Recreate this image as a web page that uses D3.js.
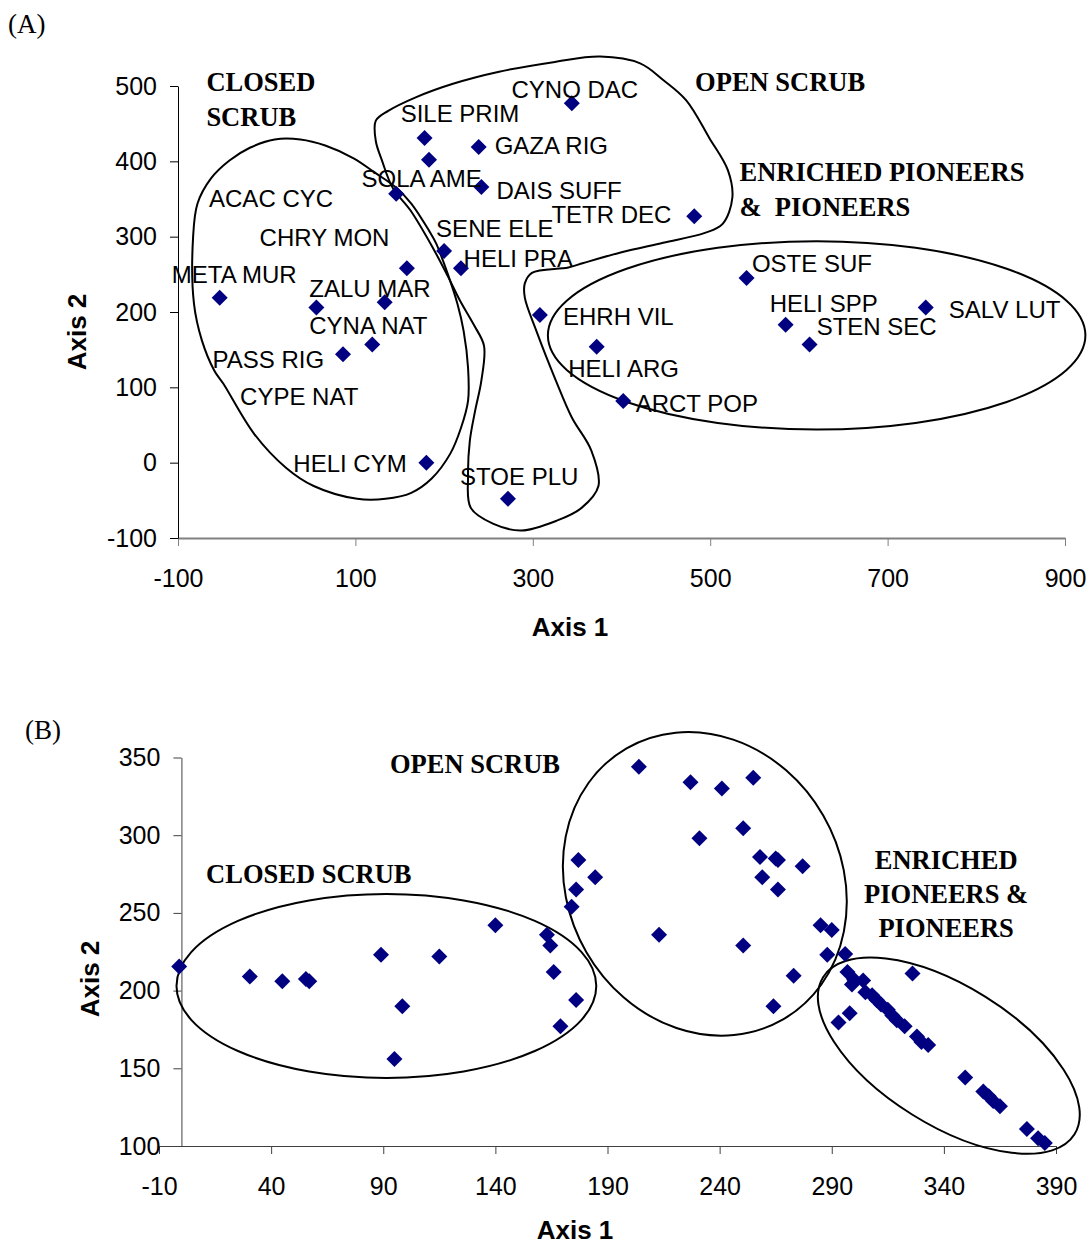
<!DOCTYPE html>
<html>
<head>
<meta charset="utf-8">
<script src="https://cdn.jsdelivr.net/npm/d3@7"></script>
<style>
  body { margin: 0; background: #fff; }
  svg text { font-family: "Liberation Sans", Arial, sans-serif; fill: #000; }
  .axis text { font-size: 25px; font-family: "Liberation Sans", Arial, sans-serif; }
  .site-label { font-size: 24px; }
  .group-label { font-family: "Liberation Serif", "Times New Roman", serif; font-weight: bold; font-size: 26.5px; }
  .axis-title { font-size: 26px; font-weight: bold; }
  .panel-tag { font-family: "Liberation Serif", "Times New Roman", serif; font-size: 27px; }
  .hull { fill: none; stroke: #000; stroke-width: 2; }
  .site { fill: #000080; }
</style>
</head>
<body>
<div class="chart"></div>
<script>
// ---------- panel A: species scores ----------
let axis1A = [-53, 56, 133, 158, 146, 178, 183, 239, 242, 200, 219, 344, 482, 541, 585, 612, 743, 308, 372, 402, 119, 86, 180, 272];
let axis2A = [219, 206, 213, 258, 357, 431, 402, 419, 366, 281, 258, 477, 327, 245, 183, 157, 206, 196, 154, 82, 157, 144, 0, -48];

// species labels, anchored in axis units (left edge, baseline)
let speciesNames = ["SILE PRIM", "SOLA AME", "ACAC CYC", "CHRY MON", "META MUR", "ZALU MAR", "GAZA RIG", "CYNO DAC",
    "DAIS SUFF", "TETR DEC", "SENE ELE", "HELI PRA", "OSTE SUF", "HELI SPP", "SALV LUT", "STEN SEC", "EHRH VIL",
    "HELI ARG", "ARCT POP", "CYNA NAT", "PASS RIG", "CYPE NAT", "HELI CYM", "STOE PLU"];
let labelAxis1 = [151, 107, -65, -8, -107, 48, 257, 276, 259, 321, 191, 222, 547, 567, 769, 620, 334, 340, 416, 48, -61, -30, 30, 218];
let labelAxis2 = [452, 366, 340, 288, 239, 220, 410, 484, 350, 318, 299, 260, 253, 200, 192, 169, 183, 114, 67, 171, 126, 77, -12, -29];

let xTicksA = [-100, 100, 300, 500, 700, 900];
let yTicksA = [-100, 0, 100, 200, 300, 400, 500];

let groupsA = [
    {lines: ["CLOSED", "SCRUB"], x: -68, y: 494, anchor: "start"},
    {lines: ["OPEN SCRUB"], x: 483, y: 494, anchor: "start"},
    {lines: ["ENRICHED PIONEERS", "&  PIONEERS"], x: 533, y: 374, anchor: "start"}
];

// hand drawn group outlines (axis units)
let hullClosedA = [[9, 429], [38, 429], [66, 421], [98, 404], [122, 385], [146, 365], [163, 344], [183, 308], [191, 291],
    [204, 251], [215, 211], [222, 175], [227, 126], [227, 82], [219, 46], [207, 12], [186, -21], [163, -40], [134, -48],
    [102, -48], [53, -31], [22, -7], [-14, 38], [-49, 105], [-59, 122], [-73, 162], [-82, 211], [-83, 299], [-78, 344],
    [-63, 377], [-42, 401], [-19, 418]];
let hullOpenA = [[123, 454], [137, 467], [168, 485], [210, 503], [262, 519], [325, 532], [376, 539], [421, 530], [447, 508],
    [473, 481], [499, 431], [520, 388], [525, 352], [514, 317], [494, 305], [447, 292], [399, 279], [357, 265], [340, 259],
    [299, 252], [291, 238], [291, 219], [304, 175], [326, 109], [344, 60], [366, 16], [374, -31], [355, -60], [327, -77],
    [287, -90], [255, -81], [230, -60], [227, -17], [229, 29], [235, 69], [242, 109], [245, 155], [234, 182], [218, 215],
    [204, 248], [186, 288], [162, 335], [142, 365], [130, 401], [123, 427]];
let ellipsesA = [{cx: 620, cy: 169, rx: 303, ry: 125, angle: 0}];

// ---------- panel B: site scores ----------
let axis1B = [-1, 30.5, 45, 55.5, 57, 89, 98.5, 95, 115, 140, 163, 164.5, 166, 176, 169,
    174, 176, 177, 184.5, 204, 227, 241, 255, 250.5, 231, 258, 265, 266, 277, 259, 266, 213, 250.5, 285, 290, 288, 296, 273, 264, 293, 298,
    326, 297, 300, 299, 304, 305, 308, 310, 312, 315, 317, 319, 322.5, 328, 330, 333, 349.5, 357.6, 360, 362, 365, 377, 382, 385];
let axis2B = [215.5, 209, 206, 207.5, 206, 223, 190, 156, 222, 242, 236, 229, 212, 194, 177,
    254, 265, 284, 273, 344, 334, 330, 337, 304.5, 298, 286, 285, 284, 280, 273, 265, 236, 229, 242, 239, 223, 223.5, 209.5, 190, 179.5, 185.5,
    211, 212, 207, 204, 206.5, 199, 197, 194, 191, 187.6, 184, 181, 177, 170.5, 167, 165, 144, 135, 132, 129, 125.5, 111, 105, 102];

let xTicksB = [-10, 40, 90, 140, 190, 240, 290, 340, 390];
let yTicksB = [100, 150, 200, 250, 300, 350];

let groupsB = [
    {lines: ["OPEN SCRUB"], x: 93, y: 340, anchor: "start"},
    {lines: ["CLOSED SCRUB"], x: 11, y: 269, anchor: "start"},
    {lines: ["ENRICHED", "PIONEERS &", "PIONEERS"], x: 341, y: 278, anchor: "middle"}
];
let ellipsesB = [
    {cx: 91.4, cy: 203, rx: 93.6, ry: 59.2, angle: 0},
    {cx: 233.4, cy: 268.7, rx: 69.8, ry: 88, angle: 60},
    {cx: 342.2, cy: 158.1, rx: 66.1, ry: 44.6, angle: 32}
];


let svg = d3.select(".chart").append("svg")
    .attr("width", 1090)
    .attr("height", 1246);

let diamond = d3.symbol(d3.symbolSquare, 128);

// plain hyphen for negatives, like the original
let plainNum = d => String(d);

function drawPanel(p) {
    let g = svg.append("g");

    // x axis
    g.append("g")
        .attr("class", "axis x-axis")
        .attr("transform", `translate(0,${p.y(p.yDomain[0])})`)
        .call(d3.axisBottom(p.x).tickValues(p.xTicks).tickFormat(plainNum)
            .tickSize(8).tickSizeOuter(0).tickPadding(23));

    // y axis
    g.append("g")
        .attr("class", "axis y-axis")
        .attr("transform", `translate(${p.x(p.yAxisAt)},0)`)
        .call(d3.axisLeft(p.y).tickValues(p.yTicks).tickFormat(plainNum)
            .tickSize(8).tickSizeOuter(0).tickPadding(13));

    g.selectAll(".x-axis .domain").attr("stroke", p.xAxisColor).attr("stroke-width", p.xAxisWidth);
    g.selectAll(".x-axis .tick line").attr("stroke", p.xAxisColor);
    g.selectAll(".y-axis .domain, .y-axis .tick line").attr("stroke", p.yAxisColor);

    // outlines
    let line = d3.line()
        .x(d => p.x(d[0]))
        .y(d => p.y(d[1]))
        .curve(d3.curveCatmullRomClosed.alpha(0.5));

    g.selectAll(".hull-path")
        .data(p.hulls)
        .enter()
        .append("path")
        .attr("class", "hull")
        .attr("d", d => line(d));

    g.selectAll(".hull-ellipse")
        .data(p.ellipses)
        .enter()
        .append("ellipse")
        .attr("class", "hull")
        .attr("cx", d => p.x(d.cx))
        .attr("cy", d => p.y(d.cy))
        .attr("rx", d => p.x(d.cx + d.rx) - p.x(d.cx))
        .attr("ry", d => p.y(d.cy - d.ry) - p.y(d.cy))
        .attr("transform", d => `rotate(${d.angle},${p.x(d.cx)},${p.y(d.cy)})`);

    // points
    g.selectAll(".site")
        .data(p.xs.map((v, i) => [v, p.ys[i]]))
        .enter()
        .append("path")
        .attr("class", "site")
        .attr("d", diamond)
        .attr("transform", d => `translate(${p.x(d[0])},${p.y(d[1])}) rotate(45)`);

    // group names
    let grp = g.selectAll(".group-label")
        .data(p.groups)
        .enter()
        .append("text")
        .attr("class", "group-label")
        .attr("text-anchor", d => d.anchor);

    grp.selectAll("tspan")
        .data(d => d.lines.map((t, i) => ({t: t, i: i, d: d})))
        .enter()
        .append("tspan")
        .attr("x", d => p.x(d.d.x))
        .attr("y", d => p.y(d.d.y) + d.i * p.lineGap)
        .style("white-space", "pre")
        .text(d => d.t);

    // axis titles
    g.append("text")
        .attr("class", "axis-title")
        .attr("text-anchor", "middle")
        .attr("x", p.titleX[0])
        .attr("y", p.titleX[1])
        .text("Axis 1");

    g.append("text")
        .attr("class", "axis-title")
        .attr("text-anchor", "middle")
        .attr("transform", `translate(${p.titleY[0]},${p.titleY[1]}) rotate(-90)`)
        .text("Axis 2");

    g.append("text")
        .attr("class", "panel-tag")
        .attr("x", p.tag[0])
        .attr("y", p.tag[1])
        .text(p.tagText);

    return g;
}


// panel A
let xA = d3.scaleLinear().domain([-100, 900]).range([178, 1065]);
let yA = d3.scaleLinear().domain([-100, 500]).range([538, 86]);

let gA = drawPanel({
    x: xA, y: yA, yDomain: [-100, 500], yAxisAt: -100,
    xTicks: xTicksA, yTicks: yTicksA,
    xAxisColor: "#808080", xAxisWidth: 2, yAxisColor: "#000",
    xs: axis1A, ys: axis2A,
    hulls: [hullClosedA, hullOpenA], ellipses: ellipsesA,
    groups: groupsA, lineGap: 35,
    titleX: [570, 636], titleY: [86, 332],
    tag: [8, 33], tagText: "(A)"
});

gA.selectAll(".site-label")
    .data(speciesNames)
    .enter()
    .append("text")
    .attr("class", "site-label")
    .attr("x", (d, i) => xA(labelAxis1[i]))
    .attr("y", (d, i) => yA(labelAxis2[i]))
    .text(d => d);

// panel B
let xB = d3.scaleLinear().domain([-10, 390]).range([159, 1056]);
let yB = d3.scaleLinear().domain([100, 350]).range([1146, 757.5]);

drawPanel({
    x: xB, y: yB, yDomain: [100, 350], yAxisAt: 0,
    xTicks: xTicksB, yTicks: yTicksB,
    xAxisColor: "#404040", xAxisWidth: 1.2, yAxisColor: "#404040",
    xs: axis1B, ys: axis2B,
    hulls: [], ellipses: ellipsesB,
    groups: groupsB, lineGap: 34,
    titleX: [575, 1239], titleY: [99, 979],
    tag: [25, 739], tagText: "(B)"
});
</script>
</body>
</html>
